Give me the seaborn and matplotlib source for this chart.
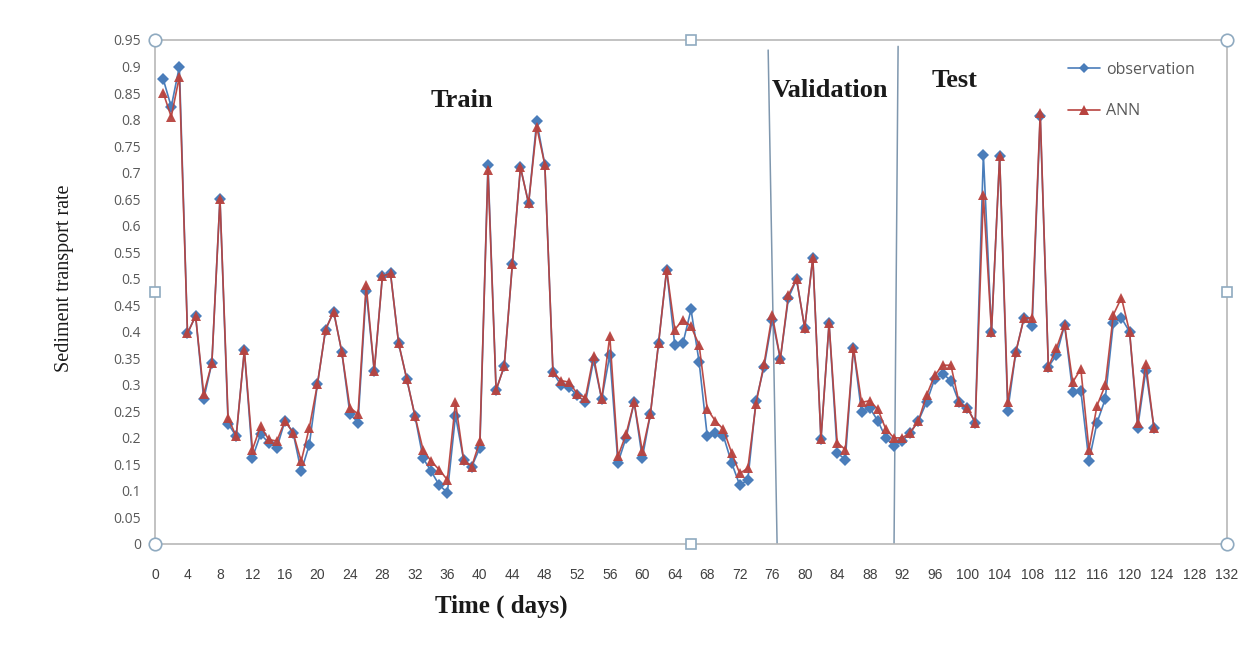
import numpy as np
import pandas as pd
import matplotlib
matplotlib.use("Agg")
import matplotlib.pyplot as plt
from matplotlib.lines import Line2D
import seaborn as sns

# Daily sediment transport rate: measured values and ANN predictions
days = list(range(1, 124))

observation = [
    0.877, 0.824, 0.900, 0.397, 0.430, 0.273, 0.341, 0.651, 0.227, 0.203,
    0.365, 0.163, 0.207, 0.191, 0.181, 0.232, 0.210, 0.137, 0.187, 0.301,
    0.404, 0.438, 0.362, 0.245, 0.229, 0.477, 0.326, 0.505, 0.510, 0.378,
    0.311, 0.242, 0.162, 0.137, 0.111, 0.097, 0.242, 0.159, 0.146, 0.181,
    0.715, 0.290, 0.335, 0.527, 0.710, 0.642, 0.797, 0.715, 0.324, 0.299,
    0.295, 0.280, 0.267, 0.346, 0.273, 0.356, 0.153, 0.200, 0.267, 0.162,
    0.245, 0.378, 0.517, 0.375, 0.378, 0.442, 0.343, 0.203, 0.210, 0.203,
    0.153, 0.111, 0.121, 0.270, 0.334, 0.423, 0.349, 0.464, 0.499, 0.407,
    0.540, 0.197, 0.416, 0.172, 0.159, 0.370, 0.248, 0.257, 0.232, 0.200,
    0.184, 0.194, 0.210, 0.232, 0.267, 0.311, 0.321, 0.308, 0.267, 0.257,
    0.229, 0.734, 0.400, 0.731, 0.251, 0.362, 0.426, 0.410, 0.807, 0.334,
    0.356, 0.413, 0.286, 0.289, 0.156, 0.229, 0.273, 0.416, 0.426, 0.400,
    0.219, 0.327, 0.219,
]

ann = [
    0.851, 0.805, 0.881, 0.397, 0.430, 0.283, 0.341, 0.651, 0.238, 0.203,
    0.365, 0.178, 0.222, 0.197, 0.194, 0.232, 0.210, 0.156, 0.219, 0.301,
    0.404, 0.438, 0.362, 0.257, 0.245, 0.489, 0.326, 0.505, 0.510, 0.378,
    0.311, 0.242, 0.178, 0.156, 0.140, 0.121, 0.267, 0.159, 0.146, 0.194,
    0.705, 0.290, 0.335, 0.527, 0.710, 0.642, 0.786, 0.715, 0.324, 0.308,
    0.305, 0.283, 0.276, 0.354, 0.273, 0.392, 0.165, 0.207, 0.267, 0.175,
    0.245, 0.378, 0.517, 0.404, 0.423, 0.410, 0.375, 0.254, 0.232, 0.216,
    0.172, 0.133, 0.143, 0.264, 0.340, 0.432, 0.349, 0.470, 0.499, 0.407,
    0.540, 0.197, 0.416, 0.191, 0.178, 0.370, 0.267, 0.270, 0.254, 0.216,
    0.200, 0.200, 0.210, 0.232, 0.280, 0.318, 0.337, 0.337, 0.267, 0.257,
    0.229, 0.658, 0.400, 0.731, 0.267, 0.362, 0.426, 0.426, 0.813, 0.334,
    0.369, 0.413, 0.305, 0.330, 0.178, 0.261, 0.299, 0.432, 0.464, 0.400,
    0.229, 0.340, 0.219,
]

# Boundaries between the data splits (slightly slanted hand-drawn dividers)
split_lines_x = [(75.5, 76.6), (91.5, 91.0)]
split_lines_top = [0.931, 0.938]
split_labels = ["Train", "Validation", "Test"]
split_label_x = [37.8, 83.1, 98.5]
split_label_y = [0.836, 0.855, 0.874]

x_ticks = list(range(0, 133, 4))
y_ticks = [round(0.05 * i, 2) for i in range(20)]
y_tick_labels = [("%g" % v) for v in y_ticks]

OBS_COLOR = "#4A7DBA"
ANN_COLOR = "#B8433F"
AXIS_GRAY = "#A6A6A6"
TEXT_GRAY = "#595959"
HANDLE_COLOR = "#8FAAC0"

sns.set_style("white")
plt.rcParams["font.family"] = ["Open Sans", "DejaVu Sans"]

fig = plt.figure(figsize=(12.49, 6.47), dpi=100)
ax = fig.add_axes([0.1241, 0.1592, 0.8583, 0.7790])

df = pd.DataFrame({"day": days, "observation": observation, "ANN": ann})

sns.lineplot(data=df, x="day", y="observation", ax=ax, color=OBS_COLOR,
             marker="D", markersize=6, markeredgewidth=0, linewidth=1.2,
             zorder=3)
sns.lineplot(data=df, x="day", y="ANN", ax=ax, color=ANN_COLOR,
             marker="^", markersize=7.5, markeredgewidth=0, linewidth=1.2,
             alpha=0.95, zorder=4)

# Split dividers
for (xt, xb), yt in zip(split_lines_x, split_lines_top):
    ax.plot([xb, xt], [0, yt], color="#7F97AE", linewidth=1.1, zorder=2)

for label, lx, ly in zip(split_labels, split_label_x, split_label_y):
    ax.text(lx, ly, label, ha="center", va="center", fontsize=19,
            fontweight="bold", family=["Liberation Serif", "DejaVu Serif"],
            color="#1a1a1a")

ax.set_xlim(0, 132)
ax.set_ylim(0, 0.95)
ax.set_xticks(x_ticks)
ax.set_xticklabels([str(t) for t in x_ticks],
                   family=["Liberation Sans", "DejaVu Sans"],
                   fontsize=10, color="#404040")
ax.set_yticks(y_ticks)
ax.set_yticklabels(y_tick_labels, fontsize=10, color=TEXT_GRAY)
ax.tick_params(axis="both", which="major", direction="out", length=4,
               width=0.8, color=AXIS_GRAY)
ax.tick_params(axis="x", pad=13)
ax.tick_params(axis="y", pad=6)
ax.set_xlabel("")
ax.set_ylabel("")

for side in ["left", "right", "top", "bottom"]:
    ax.spines[side].set_visible(True)
    ax.spines[side].set_color("#B8B8B8")
    ax.spines[side].set_linewidth(1.2)

# Chart-area selection handles on the frame
corner_x = [0, 1, 0, 1]
corner_y = [0, 0, 1, 1]
ax.plot(corner_x, corner_y, linestyle="none", marker="o", markersize=9,
        markerfacecolor="white", markeredgecolor=HANDLE_COLOR,
        markeredgewidth=1.2, transform=ax.transAxes, clip_on=False, zorder=10)
mid_x = [0.5, 0.5, 0, 1]
mid_y = [0, 1, 0.5, 0.5]
ax.plot(mid_x, mid_y, linestyle="none", marker="s", markersize=7.5,
        markerfacecolor="white", markeredgecolor=HANDLE_COLOR,
        markeredgewidth=1.2, transform=ax.transAxes, clip_on=False, zorder=10)

handles = [
    Line2D([], [], color=OBS_COLOR, marker="D", markersize=5,
           markeredgewidth=0, linewidth=1.2),
    Line2D([], [], color=ANN_COLOR, marker="^", markersize=6.5,
           markeredgewidth=0, linewidth=1.2),
]
leg = ax.legend(handles, ["observation", "ANN"], loc="upper left",
                bbox_to_anchor=(0.838, 0.985), frameon=False, fontsize=11.5,
                handlelength=2.0, handletextpad=0.4, labelspacing=1.6)
for t in leg.get_texts():
    t.set_color(TEXT_GRAY)

fig.text(0.052, 0.57, "Sediment transport rate", rotation=90, ha="center",
         va="center", fontsize=14.5, family=["Liberation Serif", "DejaVu Serif"],
         color="#1a1a1a")
fig.text(0.401, 0.063, "Time ( days)", ha="center", va="center", fontsize=18,
         fontweight="bold", family=["Liberation Serif", "DejaVu Serif"],
         color="#1a1a1a")

fig.savefig("out.png", dpi=100, facecolor="white")
